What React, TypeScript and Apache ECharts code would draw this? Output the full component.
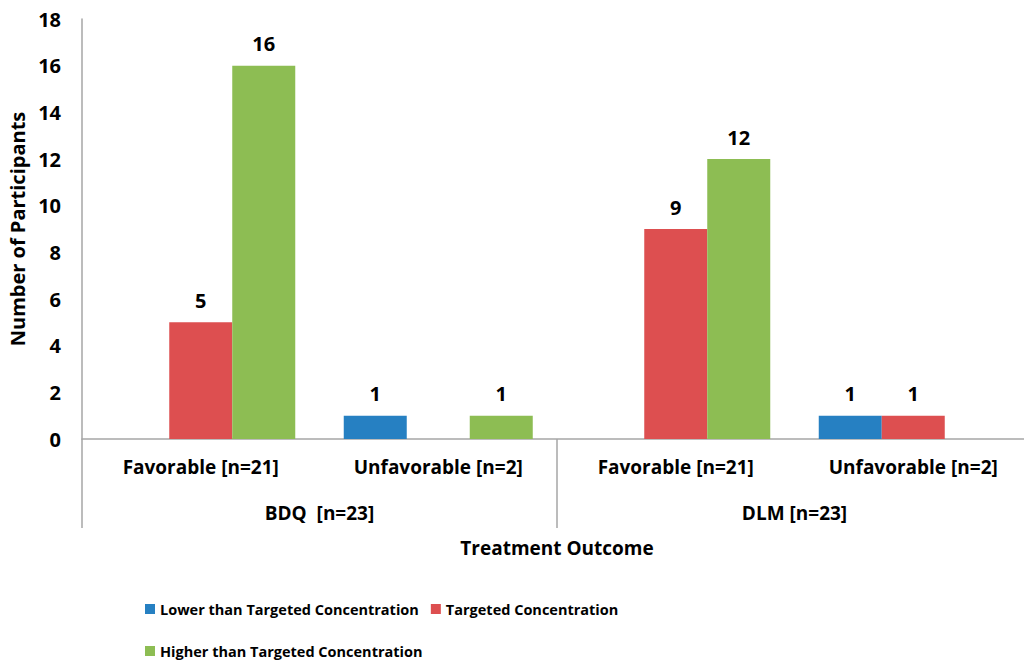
import React, { useEffect, useRef } from "react";
import * as echarts from "echarts";

const outcomes = ["Favorable [n=21]", "Unfavorable [n=2]", "Favorable [n=21]", "Unfavorable [n=2]"];
const drugs = ["BDQ  [n=23]", "DLM [n=23]"];
const seriesNames = [
  "Lower than Targeted Concentration",
  "Targeted Concentration",
  "Higher than Targeted Concentration",
];
const lowerValues = [0, 1, 0, 1];
const targetedValues = [5, 0, 9, 1];
const higherValues = [16, 1, 12, 0];
const yTicks = { min: 0, max: 18, interval: 2 };

const colors = ["#2680c2", "#dd4f50", "#8dbd53"];
const FONT = "Open Sans";
const AXIS_GREY = "#a6a6a6";

export default function App() {
  const ref = useRef<HTMLDivElement>(null);
  useEffect(() => {
    if (!ref.current) return;
    const chart = echarts.init(ref.current, undefined, { renderer: "svg" });
    const seriesData = [lowerValues, targetedValues, higherValues];
    chart.setOption({
      animation: false,
      textStyle: { fontFamily: FONT, fontWeight: "bold", color: "#000" },
      grid: { left: 82, top: 19, width: 950, height: 420, containLabel: false, outerBoundsMode: "none" },
      legend: {
        data: seriesNames,
        left: 140,
        top: 589,
        width: 500,
        itemWidth: 10,
        itemHeight: 10,
        itemGap: 12,
        icon: "rect",
        textStyle: { fontFamily: FONT, fontWeight: "bold", fontSize: 14.5, color: "#000", lineHeight: 30 },
      },
      xAxis: [
        {
          type: "category",
          data: outcomes,
          position: "bottom",
          axisLine: { show: true, lineStyle: { color: AXIS_GREY, width: 1.5 } },
          axisTick: { show: false },
          axisLabel: { interval: 0, margin: 18, fontSize: 19, fontWeight: "bold", color: "#000", fontFamily: FONT },
        },
        {
          type: "category",
          data: drugs,
          position: "bottom",
          axisLine: { show: false },
          axisTick: { show: true, length: 89, lineStyle: { color: AXIS_GREY, width: 1.5 } },
          axisLabel: { interval: 0, margin: 64, fontSize: 19, fontWeight: "bold", color: "#000", fontFamily: FONT },
          name: "Treatment Outcome",
          nameLocation: "middle",
          nameGap: 99,
          nameTextStyle: { fontSize: 19, fontWeight: "bold", color: "#000", fontFamily: FONT },
        },
      ],
      yAxis: {
        type: "value",
        min: yTicks.min,
        max: yTicks.max,
        interval: yTicks.interval,
        splitLine: { show: false },
        axisLine: { show: true, lineStyle: { color: AXIS_GREY, width: 1.5 } },
        axisTick: { show: false },
        axisLabel: { margin: 21, fontSize: 20, fontWeight: "bold", color: "#000", fontFamily: FONT },
        name: "Number of Participants",
        nameLocation: "middle",
        nameGap: 51,
        nameTextStyle: { fontSize: 20, fontWeight: "bold", color: "#000", fontFamily: FONT },
      },
      series: seriesNames.map((name, i) => ({
        name,
        type: "bar",
        xAxisIndex: 0,
        data: seriesData[i],
        barWidth: 63,
        barGap: "0%",
        itemStyle: { color: colors[i] },
        label: {
          show: true,
          position: "top",
          distance: 12,
          fontSize: 20,
          fontWeight: "bold",
          color: "#000",
          fontFamily: FONT,
          formatter: (p: any) => (p.value ? String(p.value) : ""),
        },
      })),
    });
    return () => chart.dispose();
  }, []);
  return (
    <div
      ref={ref}
      style={{ position: "absolute", left: 0, top: 0, width: 1024, height: 662, background: "#fff" }}
    />
  );
}
